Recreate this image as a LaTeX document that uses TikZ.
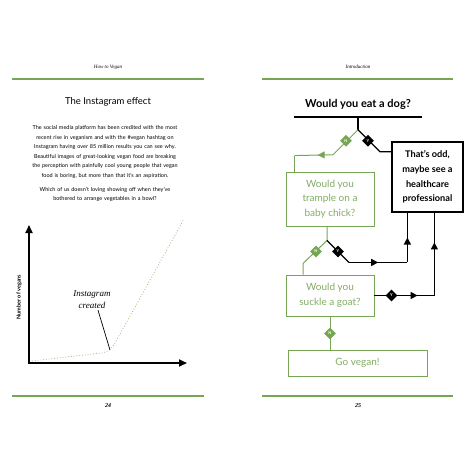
\documentclass[tikz,border=0pt]{standalone}
\usepackage{fontspec}
\setmainfont{Lato}
\newfontfamily\bookserif{Liberation Serif}
\usetikzlibrary{shapes.geometric, arrows.meta, positioning, calc, decorations.markings}
\definecolor{cVegan}{RGB}{118,166,84}
\definecolor{cVeganText}{RGB}{130,172,100}
\tikzset{
    pagebar/.style  ={draw=cVegan, line width=2.6pt},
    runhead/.style  ={font=\bookserif\itshape\fontsize{5}{6}\selectfont},
    pagenum/.style  ={font=\bookserif\itshape\bfseries\fontsize{6}{7}\selectfont},
    bodytext/.style ={text width=180pt, align=center, font=\fontsize{5.5}{9.6}\selectfont, inner sep=0pt},
    question/.style ={rectangle, draw=cVegan, line width=0.9pt, text=cVeganText, align=center, minimum width=88pt, font=\fontsize{10}{14.6}\selectfont, inner sep=1pt},
    answer/.style   ={rectangle, draw=black, line width=1.2pt, align=center, minimum width=71pt, minimum height=70pt, font=\bfseries\fontsize{9.2}{14.6}\selectfont, inner sep=1pt},
    nodiamond/.style={diamond, fill=cVegan, text=white, minimum size=12pt, inner sep=0pt, font=\bfseries\fontsize{4}{4}\selectfont},
    yesdiamond/.style={nodiamond, fill=black},
    gline/.style    ={draw=cVegan, line width=1pt},
    bline/.style    ={draw=black, line width=1.3pt},
    midarrow/.style ={postaction={decorate}, decoration={markings, mark=at position #1 with {\arrow{Triangle[length=7pt, width=7pt]}}}},
    axis/.style     ={line width=1.8pt, {Triangle[length=8pt, width=7pt]}-{Triangle[length=8pt, width=7pt]}},
}

\begin{document}
\begin{tikzpicture}[x=1pt, y=-1pt]
    \useasboundingbox (0,0) rectangle (471,471);

    % left page
    \node[runhead] (headL) at (108,67) {How to Vegan};
    \draw[pagebar] (12,79) -- (204,79);
    \node[font=\fontsize{9.5}{11}\selectfont] (effect) at (108,102) {The Instagram effect};
    \node[bodytext] (body) at (105,152) {The social media platform has been credited with the most\\recent rise in veganism and with the \#vegan hashtag on\\Instagram having over 85 million results you can see why.\\Beautiful images of great-looking vegan food are breaking\\the perception with painfully cool young people that vegan\\food is boring, but more than that it's an aspiration.};
    \node[bodytext, below=8pt of body] (bowl) {Which of us doesn't loving showing off when they've\\bothered to arrange vegetables in a bowl?};

    \coordinate (orig) at (29,363);
    \coordinate (ytop) at (29,225);
    \coordinate (xend) at (187,363);
    \coordinate (kink) at (110,352);
    \draw[axis] (ytop) -- (orig) -- (xend);
    \draw[cVegan!75, line width=0.8pt, dotted, rounded corners=8pt] (32,361) -- (kink) -- (184,219);
    \node[rotate=90, font=\bfseries\fontsize{5.5}{6}\selectfont] (vegans) at (19,297) {Number of vegans};
    \node[align=center, font=\bookserif\itshape\fontsize{9}{12}\selectfont, inner sep=1pt] (insta) at (92,300) {Instagram\\created};
    \draw[line width=0.7pt] ([xshift=6pt]insta.south) -- ([yshift=2pt]kink);

    \draw[pagebar] (12,396) -- (204,396);
    \node[pagenum] (numL) at (108,406) {24};

    % right page
    \node[runhead] (headR) at (358,67) {Introduction};
    \draw[pagebar] (262,79) -- (453,79);

    \node[font=\bfseries\fontsize{11}{13}\selectfont, minimum width=127pt, inner xsep=0pt, inner ysep=7.5pt] (dog) at (358,104) {Would you eat a dog?};
    \draw[bline, line width=1.6pt] (dog.south west) -- (dog.south east);

    \node[answer] (odd) at (427.5,177) {That's odd,\\maybe see a\\healthcare\\professional};
    \node[question, minimum height=54pt] (chick) at (330,199) {Would you\\trample on a\\baby chick?};
    \node[question, minimum height=41pt] (goat) at (330,295.5) {Would you\\suckle a goat?};
    \node[question, minimum width=139pt, minimum height=26pt] (vegan) at (357.5,363) {Go vegan!};

    \coordinate (s0) at ($(dog.south)+(0,13)$);
    \coordinate (n0a) at ($(s0)+(-25,25)$);
    \coordinate (n0b) at ($(chick.north west)+(9,-16)$);
    \coordinate (y0a) at ($(s0)+(22,22)$);
    \draw[bline] (dog.south) -- (s0);
    \draw[gline] (s0) -- (n0a);
    \draw[gline, midarrow=0.4] (n0a) -- (n0b);
    \draw[gline] (n0b) -- (chick.north -| n0b);
    \draw[bline] (s0) -- (y0a) -- (odd.west |- y0a);
    \node[nodiamond] (n0) at ($(s0)+(-12,11)$) {N};
    \node[yesdiamond] (y0) at ($(s0)+(10,11)$) {Y};

    \coordinate (s1) at ($(chick.south)+(-3,14)$);
    \coordinate (n1a) at ($(s1)+(-24,23)$);
    \coordinate (y1a) at ($(s1)+(22,22)$);
    \coordinate (oddin1) at ($(odd.south west)+(16,0)$);
    \coordinate (oddin2) at ($(odd.south west)+(43,0)$);
    \draw[gline] (chick.south -| s1) -- (s1) -- (n1a) -- (goat.north -| n1a);
    \draw[bline] (s1) -- (y1a);
    \draw[bline, midarrow=0.5] (y1a) -- (oddin1 |- y1a);
    \draw[bline, midarrow=0.5] (oddin1 |- y1a) -- (oddin1);
    \node[nodiamond] (n1) at ($(s1)+(-11,11)$) {N};
    \node[yesdiamond] (y1) at ($(s1)+(11,11)$) {Y};

    \draw[bline, midarrow=0.72] (goat.east) -- (oddin2 |- goat.east);
    \draw[bline, midarrow=0.64] (oddin2 |- goat.east) -- (oddin2);
    \node[yesdiamond] (y2) at ($(goat.east)+(17,0)$) {Y};
    \draw[gline] (goat.south) -- (goat.south |- vegan.north);
    \node[nodiamond] (n2) at ($(goat.south)+(0,17)$) {N};

    \draw[pagebar] (262,396) -- (453,396);
    \node[pagenum] (numR) at (358,406) {25};
\end{tikzpicture}
\end{document}
